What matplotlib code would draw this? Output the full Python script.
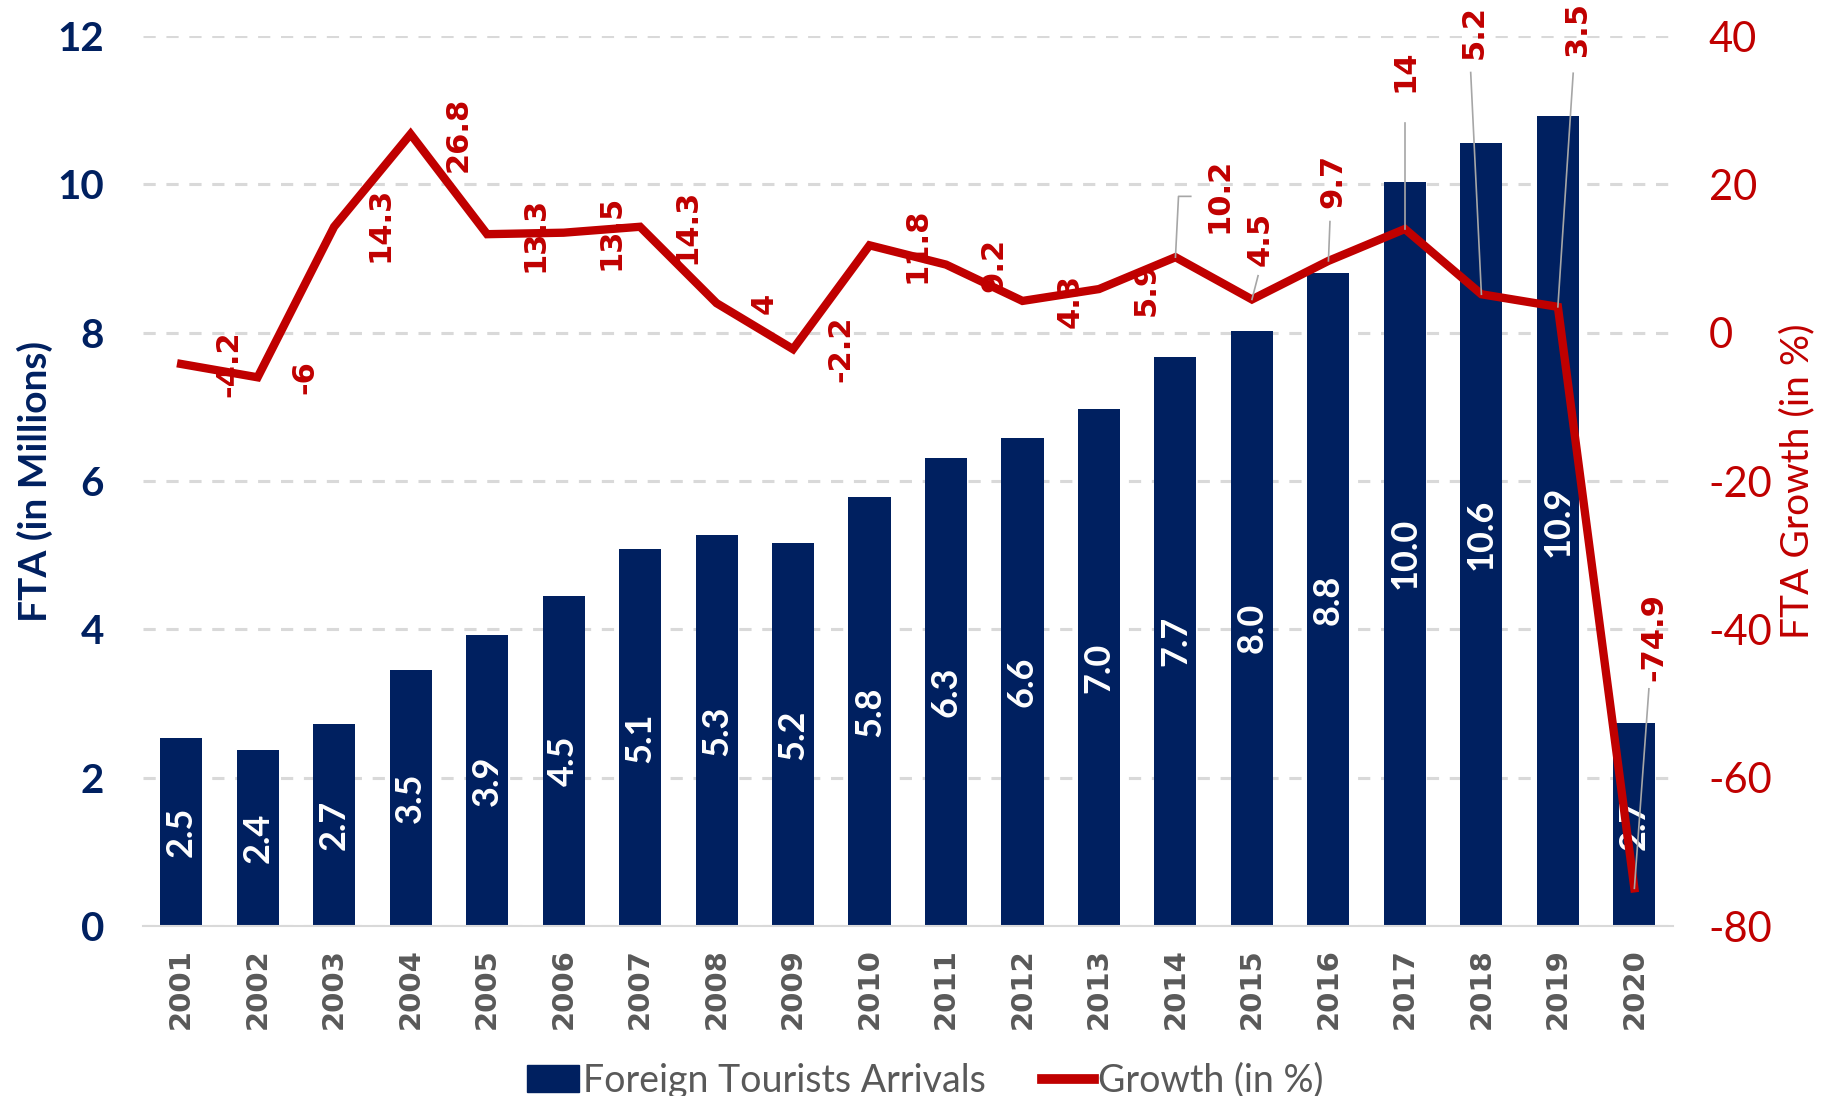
import numpy as np
import matplotlib.pyplot as plt
from matplotlib.lines import Line2D
from matplotlib.patches import Patch

plt.rcParams['axes.unicode_minus'] = False

years = ['2001', '2002', '2003', '2004', '2005', '2006', '2007', '2008', '2009', '2010',
         '2011', '2012', '2013', '2014', '2015', '2016', '2017', '2018', '2019', '2020']
fta = [2.54, 2.38, 2.73, 3.46, 3.92, 4.45, 5.08, 5.28, 5.17, 5.78,
       6.31, 6.58, 6.97, 7.68, 8.03, 8.80, 10.04, 10.56, 10.93, 2.74]
growth = [-4.2, -6, 14.3, 26.8, 13.3, 13.5, 14.3, 4, -2.2, 11.8,
          9.2, 4.3, 5.9, 10.2, 4.5, 9.7, 14, 5.2, 3.5, -74.9]
growth_txt = ['-4.2', '-6', '14.3', '26.8', '13.3', '13.5', '14.3', '4', '-2.2', '11.8',
              '9.2', '4.3', '5.9', '10.2', '4.5', '9.7', '14', '5.2', '3.5', '-74.9']

NAVY = '#002060'
RED = '#C00000'
GREY = '#595959'
GRID = '#D9D9D9'

# label placement (growth axis coords); default = right of point
lab_pos = {i: (i + 0.62, growth[i]) for i in range(len(growth))}
lab_pos[2] = (2.6, 14.6)
lab_pos[13] = (13.57, 18.5)
lab_pos[14] = (14.11, 12.6)
lab_pos[15] = (15.06, 20.5)
lab_pos[16] = (16.0, 35.4)
lab_pos[17] = (16.9, 40.6)
lab_pos[18] = (18.25, 41.0)
lab_pos[19] = (19.25, -41.0)
# leader lines
leaders = {
    13: [(13, 10.2), (13.04, 18.4), (13.2, 18.4)],
    14: [(14, 4.5), (14.08, 7.7)],
    15: [(15, 9.7), (15.02, 15.0)],
    16: [(16, 14), (16.0, 28.3)],
    17: [(17, 5.2), (16.86, 35.1)],
    18: [(18, 3.5), (18.2, 35.0)],
    19: [(19, -74.9), (19.19, -48.0)],
}

fig = plt.figure(figsize=(18.32, 10.96), dpi=100)
ax = fig.add_axes([0.078, 0.155, 0.835, 0.812])
ax2 = ax.twinx()

x = np.arange(len(years))
ax.bar(x, fta, width=0.55, color=NAVY, zorder=2)
ax.set_xlim(-0.5, len(years) - 0.5)
ax.set_ylim(0, 12)
ax.set_yticks(range(0, 13, 2))
ax.set_axisbelow(True)
ax.yaxis.grid(True, color=GRID, linestyle=(0, (4, 3.5)), linewidth=2.2)

for i, v in enumerate(fta):
    ax.text(i, v / 2, '%.1f' % v, rotation=90, ha='center', va='center',
            color='white', fontsize=26, fontweight='bold', family='Lato', zorder=3)

ax.set_xticks(x)
ax.set_xticklabels(years, rotation=90, fontsize=21, fontweight='bold', color=GREY,
                   family='DejaVu Sans')
ax.tick_params(axis='x', length=0, pad=16)
ax.tick_params(axis='y', length=0, pad=28, labelsize=29, labelcolor=NAVY)
for t in ax.get_yticklabels():
    t.set_fontweight('bold')
    t.set_family('Lato')
ax.set_ylabel('FTA (in Millions)', fontsize=28, fontweight='bold', color=NAVY,
              family='Lato')
ax.yaxis.set_label_coords(-0.059, 0.5)

for s in ['top', 'left', 'right']:
    ax.spines[s].set_visible(False)
    ax2.spines[s].set_visible(False)
ax.spines['bottom'].set_color(GRID)
ax.spines['bottom'].set_linewidth(1.5)
ax2.spines['bottom'].set_visible(False)

ax2.plot(x, growth, color=RED, linewidth=6, solid_joinstyle='miter', zorder=4)
ax2.set_ylim(-80, 40)
ax2.set_yticks(range(-80, 41, 20))
ax2.tick_params(axis='y', length=0, pad=26, labelsize=30, labelcolor=RED)
for t in ax2.get_yticklabels():
    t.set_family('Lato')
ax2.set_ylabel('FTA Growth (in %)', fontsize=28, color=RED, family='Lato')
ax2.yaxis.set_label_coords(1.070, 0.5)

for i, pts in leaders.items():
    xs, ys = zip(*pts)
    ax2.plot(xs, ys, color='#A6A6A6', linewidth=1.2, zorder=5)

for i, txt in enumerate(growth_txt):
    px, py = lab_pos[i]
    ax2.text(px, py, txt, rotation=90, ha='center', va='center', color=RED,
             fontsize=22, fontweight='bold', family='DejaVu Sans', zorder=6)

handles = [Patch(color=NAVY), Line2D([0], [0], color=RED, linewidth=7)]
leg = fig.legend(handles, ['Foreign Tourists Arrivals', 'Growth (in %)'], loc='center',
                 bbox_to_anchor=(0.505, 0.014), ncol=2, frameon=False,
                 prop={'family': 'Lato', 'size': 27}, handlelength=1.4,
                 handletextpad=0.1, columnspacing=1.5)
for t in leg.get_texts():
    t.set_color(GREY)

fig.savefig('out.png', dpi=100)
